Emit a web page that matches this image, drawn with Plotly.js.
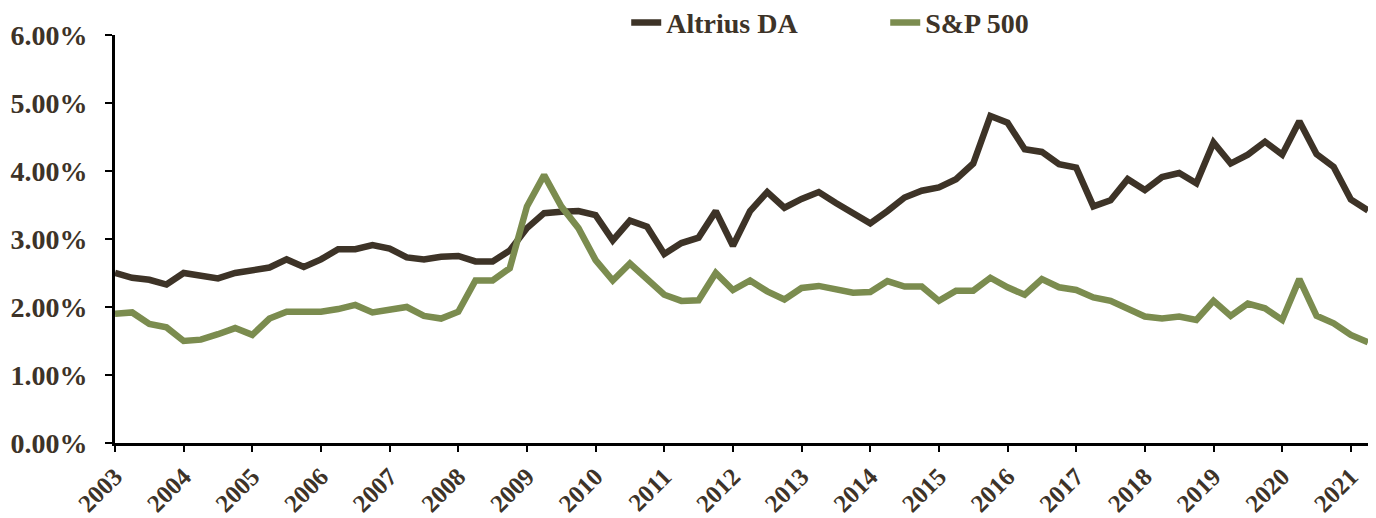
<!DOCTYPE html>
<html>
<head>
<meta charset="utf-8">
<script src="https://cdn.plot.ly/plotly-3.0.1.min.js"></script>
<style>
  html, body { margin: 0; padding: 0; background: #ffffff; }
  #chart { width: 1376px; height: 518px; }
</style>
</head>
<body>
<div id="chart"></div>
<script>
// Quarterly data, 2003 Q1 .. 2021 Q2 (yield, %)
const startYear = 2003;
const yearLabels = ["2003","2004","2005","2006","2007","2008","2009","2010","2011","2012",
                    "2013","2014","2015","2016","2017","2018","2019","2020","2021"];
const altriusDA = [2.50, 2.43, 2.40, 2.33, 2.50, 2.47, 2.42, 2.50, 2.53, 2.58, 2.70, 2.59,
                   2.70, 2.85, 2.85, 2.91, 2.86, 2.73, 2.70, 2.74, 2.75, 2.67, 2.67, 2.83,
                   3.16, 3.38, 3.40, 3.41, 3.35, 2.98, 3.27, 3.18, 2.78, 2.94, 3.02, 3.41,
                   2.90, 3.41, 3.69, 3.46, 3.59, 3.69, 3.53, 3.38, 3.23, 3.41, 3.61, 3.71,
                   3.76, 3.88, 4.11, 4.81, 4.71, 4.32, 4.28, 4.10, 4.05, 3.48, 3.57, 3.88,
                   3.72, 3.91, 3.97, 3.82, 4.42, 4.11, 4.24, 4.43, 4.24, 4.73, 4.25, 4.06,
                   3.58, 3.42];
const sp500 = [1.90, 1.92, 1.75, 1.70, 1.50, 1.52, 1.60, 1.69, 1.59, 1.83, 1.93, 1.92,
               1.93, 1.97, 2.03, 1.92, 1.95, 2.00, 1.87, 1.83, 1.93, 2.39, 2.39, 2.57,
               3.48, 3.94, 3.48, 3.16, 2.69, 2.39, 2.64, 2.41, 2.18, 2.09, 2.10, 2.50,
               2.25, 2.39, 2.23, 2.11, 2.28, 2.31, 2.26, 2.21, 2.22, 2.38, 2.30, 2.30,
               2.09, 2.24, 2.24, 2.43, 2.29, 2.18, 2.41, 2.29, 2.25, 2.14, 2.09, 1.97,
               1.86, 1.83, 1.86, 1.81, 2.09, 1.87, 2.05, 1.98, 1.81, 2.41, 1.87, 1.76,
               1.59, 1.48];

const quarters = altriusDA.map((_, i) => startYear + i * 0.25);
const yearTicks = yearLabels.map(Number);

const textColor = '#3d3328';
const fontFam = '"Liberation Serif", "Times New Roman", serif';

const traces = [
  {
    x: quarters, y: altriusDA, name: 'Altrius DA', type: 'scatter', mode: 'lines',
    line: { color: '#3d3327', width: 6.5, shape: 'linear' }
  },
  {
    x: quarters, y: sp500, name: 'S&P 500', type: 'scatter', mode: 'lines',
    line: { color: '#7b8c4f', width: 6.5, shape: 'linear' }
  }
];

const layout = {
  width: 1376, height: 518,
  margin: { l: 115, r: 8, t: 35, b: 75, autoexpand: false },
  paper_bgcolor: '#ffffff', plot_bgcolor: '#ffffff',
  font: { family: fontFam, color: textColor, size: 28, weight: 'bold' },
  showlegend: true,
  legend: {
    orientation: 'h', x: 0.408, xanchor: 'left', y: 1.03, yanchor: 'middle',
    font: { family: fontFam, color: textColor, size: 28, weight: 'bold' },
    bgcolor: 'rgba(0,0,0,0)', entrywidth: 214, entrywidthmode: 'pixels',
    itemwidth: 30, traceorder: 'normal'
  },
  hovermode: false,
  xaxis: {
    range: [2003, 2021.25], tickmode: 'array', tickvals: yearTicks, ticktext: yearLabels,
    tickangle: -45, showgrid: false, zeroline: false,
    showline: true, linecolor: '#000000', linewidth: 3,
    ticks: 'outside', ticklen: 6, tickwidth: 2, tickcolor: '#000000',
    tickfont: { family: fontFam, color: textColor, size: 25, weight: 'bold' }
  },
  yaxis: {
    range: [0, 6], dtick: 1, tick0: 0, tickformat: '.2f', ticksuffix: '%',
    showgrid: false, zeroline: false,
    showline: true, linecolor: '#000000', linewidth: 3,
    ticks: 'outside', ticklen: 7, tickwidth: 2, tickcolor: '#000000',
    ticklabelstandoff: 12,
    tickfont: { family: fontFam, color: textColor, size: 28, weight: 'bold' }
  }
};

Plotly.newPlot('chart', traces, layout, { displayModeBar: false, staticPlot: true });
</script>
</body>
</html>
